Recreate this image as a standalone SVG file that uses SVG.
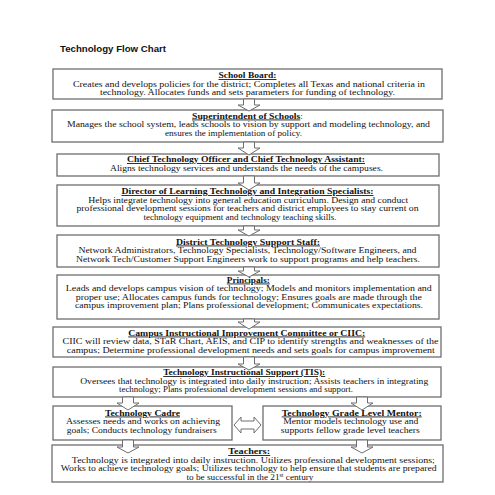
<svg xmlns="http://www.w3.org/2000/svg" width="495" height="495" viewBox="0 0 495 495">
<defs>
<style>
.bg{fill:#ffffff}
.box{fill:#ffffff;stroke:#6e6e6e;stroke-width:1.3}
.t{font-family:"Liberation Serif","Times New Roman",serif;font-size:8.6px;fill:#111;text-anchor:middle}
.h{font-weight:bold;text-decoration:underline}
.title{font-family:"Liberation Sans",Arial,sans-serif;font-weight:bold;font-size:8.6px;fill:#111}
.arr{fill:#ffffff;stroke:#6e6e6e;stroke-width:1}
</style>
<clipPath id="clipT"><rect x="50" y="444" width="395" height="37.5"/></clipPath>
</defs>
<rect class="bg" x="0" y="0" width="495" height="495"/>
<text class="title" x="60" y="51.5" textLength="106" lengthAdjust="spacingAndGlyphs">Technology Flow Chart</text>

<g id="school-board">
<rect class="box" x="53" y="69" width="389" height="30"/>
<text class="t h" x="247.5" y="78" textLength="58" lengthAdjust="spacingAndGlyphs">School Board:</text>
<text class="t" x="249" y="86.5" textLength="352" lengthAdjust="spacingAndGlyphs">Creates and develops policies for the district; Completes all Texas and national criteria in</text>
<text class="t" x="247.5" y="95" textLength="295" lengthAdjust="spacingAndGlyphs">technology.  Allocates funds and sets parameters for funding of technology.</text>
</g>

<g id="superintendent">
<rect class="box" x="52" y="110" width="391" height="32"/>
<text class="t" x="247.5" y="118.5" textLength="111" lengthAdjust="spacingAndGlyphs"><tspan class="h">Superintendent of Schools</tspan>:</text>
<text class="t" x="248.5" y="127" textLength="363" lengthAdjust="spacingAndGlyphs">Manages the school system, leads schools to vision by support and modeling technology, and</text>
<text class="t" x="233.5" y="135.5" textLength="137" lengthAdjust="spacingAndGlyphs">ensures the implementation of policy.</text>
</g>

<g id="cto">
<rect class="box" x="57" y="154" width="382" height="22"/>
<text class="t h" x="246" y="162" textLength="238" lengthAdjust="spacingAndGlyphs">Chief Technology Officer and Chief Technology Assistant:</text>
<text class="t" x="246.5" y="170.5" textLength="273" lengthAdjust="spacingAndGlyphs">Aligns technology services and understands the needs of the campuses.</text>
</g>

<g id="director">
<rect class="box" x="57" y="185" width="382" height="41"/>
<text class="t h" x="247.5" y="194" textLength="252" lengthAdjust="spacingAndGlyphs">Director of Learning Technology and Integration Specialists:</text>
<text class="t" x="248.3" y="202.5" textLength="320" lengthAdjust="spacingAndGlyphs">Helps integrate technology into general education curriculum.  Design and conduct</text>
<text class="t" x="247.5" y="211" textLength="342" lengthAdjust="spacingAndGlyphs">professional development sessions for teachers and district employees to stay current on</text>
<text class="t" x="240" y="219.5" textLength="193" lengthAdjust="spacingAndGlyphs">technology equipment and technology teaching skills.</text>
</g>

<g id="district-support">
<rect class="box" x="57" y="235" width="382" height="32"/>
<text class="t h" x="248" y="244.5" textLength="144" lengthAdjust="spacingAndGlyphs">District Technology Support Staff:</text>
<text class="t" x="247.5" y="253" textLength="338" lengthAdjust="spacingAndGlyphs">Network Administrators, Technology Specialists, Technology/Software Engineers, and</text>
<text class="t" x="248" y="261.5" textLength="344" lengthAdjust="spacingAndGlyphs">Network Tech/Customer Support Engineers work to support programs and help teachers.</text>
</g>

<g id="principals">
<rect class="box" x="57" y="275" width="382" height="44"/>
<text class="t h" x="248.3" y="282.5" textLength="43" lengthAdjust="spacingAndGlyphs">Principals:</text>
<text class="t" x="248.8" y="291" textLength="366" lengthAdjust="spacingAndGlyphs">Leads and develops campus vision of technology; Models and monitors implementation and</text>
<text class="t" x="248.8" y="299.5" textLength="346" lengthAdjust="spacingAndGlyphs">proper use; Allocates campus funds for technology; Ensures goals are made through the</text>
<text class="t" x="249" y="308" textLength="348" lengthAdjust="spacingAndGlyphs">campus improvement plan; Plans professional development; Communicates expectations.</text>
</g>

<g id="ciic">
<rect class="box" x="53" y="327" width="388" height="30"/>
<text class="t h" x="246.7" y="335.5" textLength="237" lengthAdjust="spacingAndGlyphs">Campus Instructional Improvement Committee or CIIC:</text>
<text class="t" x="250.5" y="344" textLength="376" lengthAdjust="spacingAndGlyphs">CIIC will review data, STaR Chart, AEIS, and CIP to identify strengths and weaknesses of the</text>
<text class="t" x="250.8" y="352.5" textLength="368" lengthAdjust="spacingAndGlyphs">campus; Determine professional development needs and sets goals for campus improvement</text>
</g>

<g id="tis">
<rect class="box" x="53" y="367" width="388" height="30"/>
<text class="t h" x="244.2" y="375" textLength="162" lengthAdjust="spacingAndGlyphs">Technology Instructional Support (TIS):</text>
<text class="t" x="254.2" y="383.5" textLength="348" lengthAdjust="spacingAndGlyphs">Oversees that technology is integrated into daily instruction; Assists teachers in integrating</text>
<text class="t" x="236" y="392" textLength="234" lengthAdjust="spacingAndGlyphs">technology; Plans professional development sessions and support.</text>
</g>

<g id="technology-cadre">
<rect class="box" x="53" y="406" width="179" height="34"/>
<text class="t h" x="142.5" y="415.5" textLength="75" lengthAdjust="spacingAndGlyphs">Technology Cadre</text>
<text class="t" x="143" y="424" textLength="154" lengthAdjust="spacingAndGlyphs">Assesses needs and works on achieving</text>
<text class="t" x="141.7" y="432.5" textLength="150" lengthAdjust="spacingAndGlyphs">goals; Conducts technology fundraisers</text>
</g>

<g id="grade-level-mentor">
<rect class="box" x="263" y="406" width="178" height="34"/>
<text class="t h" x="351.7" y="415.5" textLength="140" lengthAdjust="spacingAndGlyphs">Technology Grade Level Mentor:</text>
<text class="t" x="350.8" y="424" textLength="135" lengthAdjust="spacingAndGlyphs">Mentor models technology use and</text>
<text class="t" x="350.3" y="432.5" textLength="139" lengthAdjust="spacingAndGlyphs">supports fellow grade level teachers</text>
</g>

<g id="teachers">
<rect class="box" x="52" y="445" width="391" height="37"/>
<g clip-path="url(#clipT)">
<text class="t h" x="249.2" y="454" textLength="42" lengthAdjust="spacingAndGlyphs">Teachers:</text>
<text class="t" x="253.3" y="462.5" textLength="363" lengthAdjust="spacingAndGlyphs">Technology is integrated into daily instruction. Utilizes professional development sessions;</text>
<text class="t" x="248.7" y="471" textLength="376" lengthAdjust="spacingAndGlyphs">Works to achieve technology goals; Utilizes technology to help ensure that students are prepared</text>
<text class="t" x="250" y="479.5" textLength="127" lengthAdjust="spacingAndGlyphs">to be successful in the 21<tspan font-size="5.5" dy="-3">st</tspan><tspan dy="3"> century</tspan></text>
</g>
</g>

<g id="connectors">
<path class="arr" d="M243.5,99 V105 H238 L249,111 L260,105 H254.5 V99 Z"/>
<path class="arr" d="M243.5,142 V148 H238 L249,155 L260,148 H254.5 V142 Z"/>
<path class="arr" d="M243.5,176 V183 H238 L249,190 L260,183 H254.5 V176 Z"/>
<path class="arr" d="M243.5,226 V230 H238 L249,236 L260,230 H254.5 V226 Z"/>
<path class="arr" d="M243.5,267 V271 H238 L249,277 L260,271 H254.5 V267 Z"/>
<path class="arr" d="M243.5,319 V322 H238 L249,329 L260,322 H254.5 V319 Z"/>
<path class="arr" d="M243.5,357 V364 H238 L249,370 L260,364 H254.5 V357 Z"/>
<path class="arr" d="M122.5,397 V403 H117 L128,410 L139,403 H133.5 V397 Z"/>
<path class="arr" d="M356.5,397 V403 H351 L362,410 L373,403 H367.5 V397 Z"/>
<path class="arr" d="M122.5,440 V447 H117 L128,453 L139,447 H133.5 V440 Z"/>
<path class="arr" d="M356.5,440 V447 H351 L362,453 L373,447 H367.5 V440 Z"/>
<path class="arr" d="M234,425 L241,417 V421 H254 V417 L261,425 L254,433 V429 H241 V433 Z"/>
</g>
</svg>
